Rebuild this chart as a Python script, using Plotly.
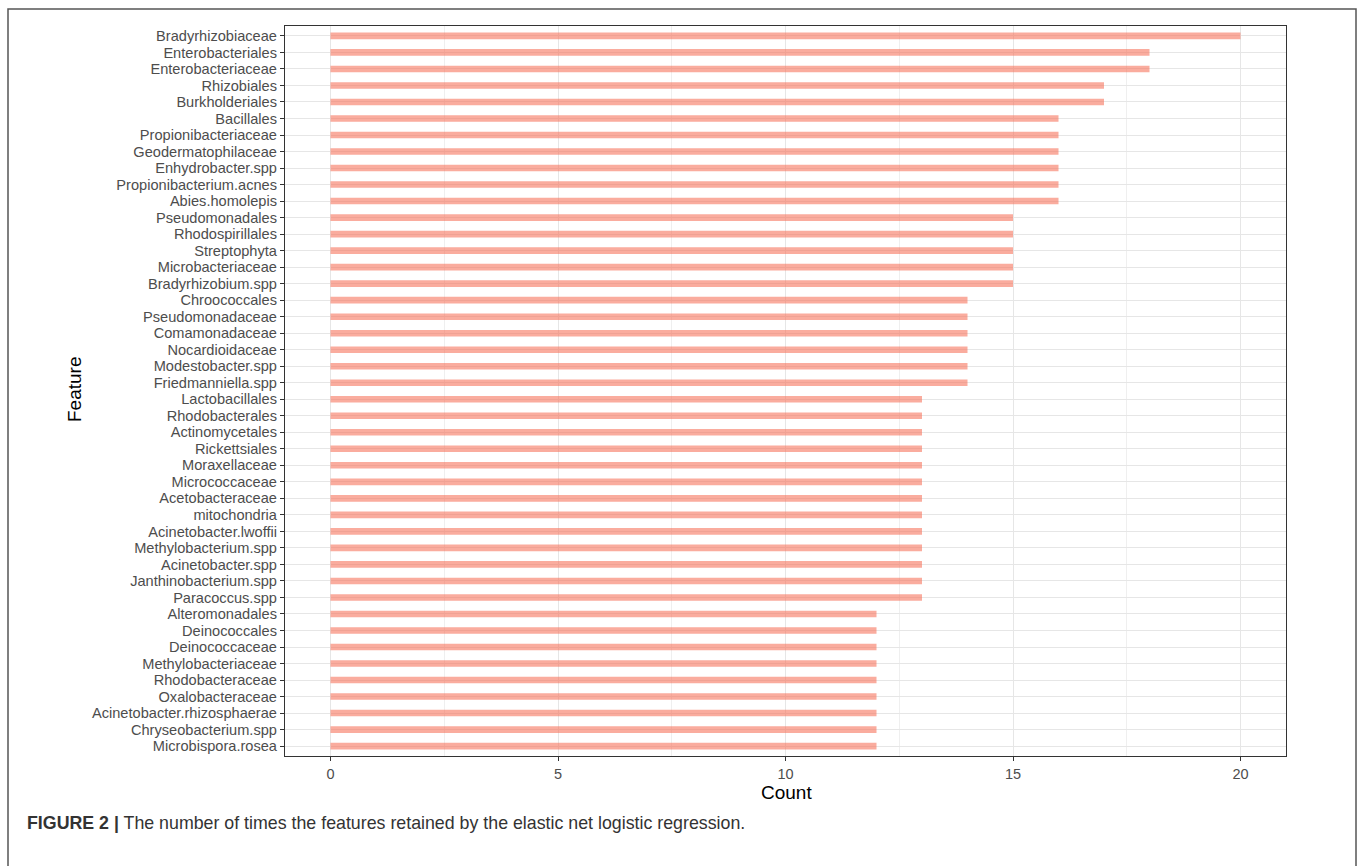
import plotly.graph_objects as go

features = [
    "Bradyrhizobiaceae", "Enterobacteriales", "Enterobacteriaceae", "Rhizobiales",
    "Burkholderiales", "Bacillales", "Propionibacteriaceae", "Geodermatophilaceae",
    "Enhydrobacter.spp", "Propionibacterium.acnes", "Abies.homolepis", "Pseudomonadales",
    "Rhodospirillales", "Streptophyta", "Microbacteriaceae", "Bradyrhizobium.spp",
    "Chroococcales", "Pseudomonadaceae", "Comamonadaceae", "Nocardioidaceae",
    "Modestobacter.spp", "Friedmanniella.spp", "Lactobacillales", "Rhodobacterales",
    "Actinomycetales", "Rickettsiales", "Moraxellaceae", "Micrococcaceae",
    "Acetobacteraceae", "mitochondria", "Acinetobacter.lwoffii", "Methylobacterium.spp",
    "Acinetobacter.spp", "Janthinobacterium.spp", "Paracoccus.spp", "Alteromonadales",
    "Deinococcales", "Deinococcaceae", "Methylobacteriaceae", "Rhodobacteraceae",
    "Oxalobacteraceae", "Acinetobacter.rhizosphaerae", "Chryseobacterium.spp",
    "Microbispora.rosea",
]
counts = [
    20, 18, 18, 17, 17, 16, 16, 16, 16, 16, 16, 15, 15, 15, 15, 15,
    14, 14, 14, 14, 14, 14, 13, 13, 13, 13, 13, 13, 13, 13, 13, 13,
    13, 13, 13, 12, 12, 12, 12, 12, 12, 12, 12, 12,
]
x_ticks = [0, 5, 10, 15, 20]

W, H = 1360, 866
L, R, T, B = 285, 1286, 26, 756

fig = go.Figure()
fig.add_trace(go.Bar(
    x=counts, y=features, orientation="h", width=0.4,
    marker=dict(color="rgba(246,112,88,0.58)", line=dict(width=0)),
))

n = len(features)
fig.update_layout(
    width=W, height=H,
    margin=dict(l=L, r=W - R, t=T, b=H - B),
    paper_bgcolor="white", plot_bgcolor="white",
    showlegend=False,
    font=dict(family="Liberation Sans, Arial, sans-serif", color="#4D4D4D"),
    xaxis=dict(
        range=[-1, 21], tickmode="array", tickvals=x_ticks, ticks="outside", ticklen=4,
        tickcolor="#333333", tickwidth=1, tickfont=dict(size=14.5, color="#4D4D4D"),
        showgrid=True, gridcolor="#E6E6E6", gridwidth=1.4,
        minor=dict(dtick=2.5, tick0=0, showgrid=True, gridcolor="#EFEFEF", gridwidth=0.9),
        zeroline=False, showline=True, linecolor="#333333", linewidth=1.2, mirror=True,
    ),
    yaxis=dict(
        categoryorder="array", categoryarray=features[::-1],
        tickmode="array", tickvals=features, ticktext=features,
        range=[-0.6, n - 0.4], ticks="outside", ticklen=4,
        tickcolor="#333333", tickwidth=1, tickfont=dict(size=14.6, color="#4D4D4D"),
        showgrid=True, gridcolor="#E6E6E6", gridwidth=1.4,
        zeroline=False, showline=True, linecolor="#333333", linewidth=1.2, mirror=True,
    ),
)

def px(xp):
    return (xp - L) / (R - L)

def py(yp):
    return (B - yp) / (B - T)

# outer figure frame
fig.add_shape(type="rect", xref="paper", yref="paper",
              x0=px(8), x1=px(1356), y0=py(880), y1=py(9),
              line=dict(color="#555555", width=1.5), fillcolor="rgba(0,0,0,0)",
              layer="below")

fig.add_annotation(text="Feature", xref="paper", yref="paper",
                   x=px(75), y=py(390), textangle=-90, showarrow=False,
                   xanchor="center", yanchor="middle",
                   font=dict(size=19, color="black"))
fig.add_annotation(text="Count", xref="paper", yref="paper",
                   x=px(786), y=py(792), showarrow=False,
                   xanchor="center", yanchor="middle",
                   font=dict(size=19, color="black"))
fig.add_annotation(
    text="<b>FIGURE 2 |</b> The number of times the features retained by the elastic net logistic regression.",
    xref="paper", yref="paper", x=px(25), y=py(823), xanchor="left", yanchor="middle",
    showarrow=False, font=dict(size=17.8, color="#333333"))

fig.write_html("out.html", config={"displayModeBar": False},
               post_script="document.body.style.margin='0';")
